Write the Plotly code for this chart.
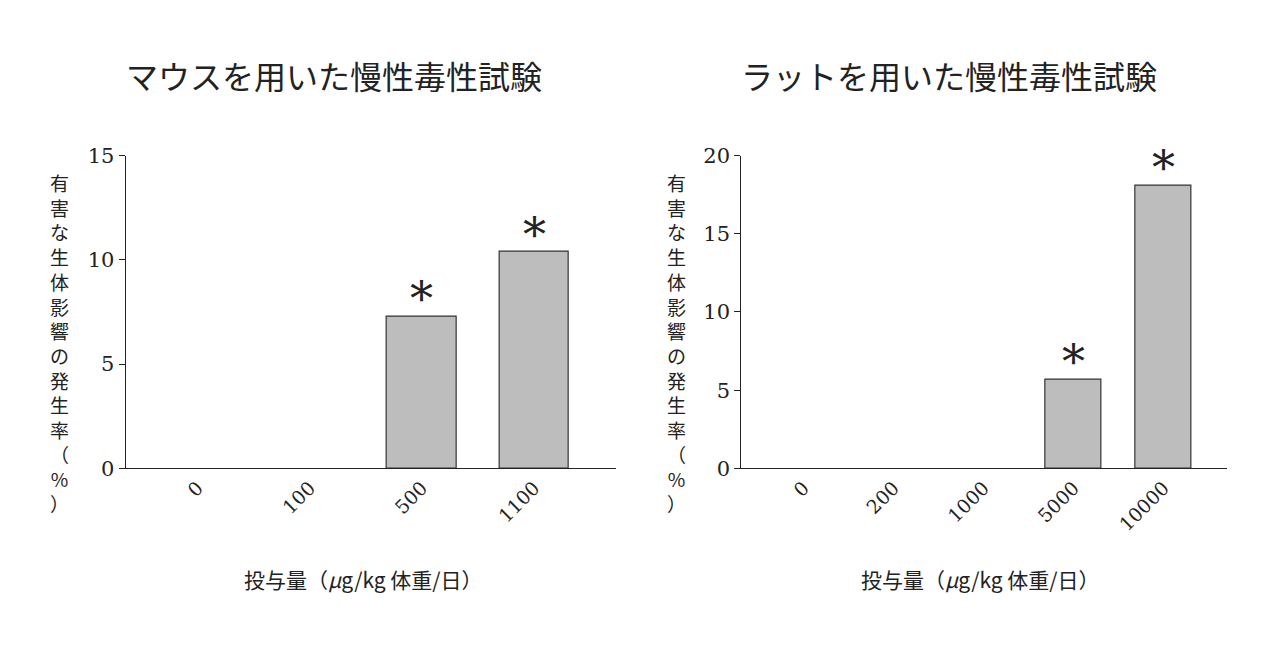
import plotly.graph_objects as go

mouse_doses = ["0", "100", "500", "1100"]
mouse_vals = [0, 0, 7.3, 10.4]
mouse_sig = [False, False, True, True]
rat_doses = ["0", "200", "1000", "5000", "10000"]
rat_vals = [0, 0, 0, 5.7, 18.1]
rat_sig = [False, False, False, True, True]

FONT = "Noto Sans CJK JP"
fig = go.Figure()
fig.add_bar(x=mouse_doses, y=mouse_vals, xaxis="x", yaxis="y", width=0.62,
            marker=dict(color="#bdbdbd", line=dict(color="#333", width=[1.2 if v else 0 for v in mouse_vals])))
fig.add_bar(x=rat_doses, y=rat_vals, xaxis="x2", yaxis="y2", width=0.62,
            marker=dict(color="#bdbdbd", line=dict(color="#333", width=[1.2 if v else 0 for v in rat_vals])))

ann = []
for xs, ys, sig, xr, yr in [(mouse_doses, mouse_vals, mouse_sig, "x", "y"),
                            (rat_doses, rat_vals, rat_sig, "x2", "y2")]:
    for i, (y, s) in enumerate(zip(ys, sig)):
        if s:
            ann.append(dict(x=i, y=y, xref=xr, yref=yr, text="*", showarrow=False,
                            xanchor="center", yanchor="bottom", yshift=-12,
                            font=dict(size=46, color="#222", family="DejaVu Serif")))

ytitle = "<br>".join(list("有害な生体影響の発生率") + ["（", "%", "）"])
for xp in [0.04, 0.522]:
    ann.append(dict(x=xp, y=0.5, xref="paper", yref="paper", text=ytitle, showarrow=False,
                    xanchor="center", yanchor="middle",
                    font=dict(size=19, family=FONT, color="#222"), align="center"))
for xp, t in [(0.255, "マウスを用いた慢性毒性試験"), (0.735, "ラットを用いた慢性毒性試験")]:
    ann.append(dict(x=xp, y=0.915, xref="paper", yref="paper", text=t, showarrow=False,
                    xanchor="center", yanchor="middle",
                    font=dict(size=32, family=FONT, color="#222")))
for xp in [0.278, 0.76]:
    ann.append(dict(x=xp, y=0.135, xref="paper", yref="paper", text="投与量（<i>μ</i>g/kg 体重/日）",
                    xanchor="center", yanchor="middle",
                    showarrow=False, font=dict(size=21, family=FONT, color="#222")))

xcommon = dict(type="category", showline=True, linecolor="#222", linewidth=1.3, ticks="",
               tickangle=-45, tickfont=dict(size=19, family="DejaVu Serif", color="#222"),
               showgrid=False, zeroline=False)
ycommon = dict(showline=True, linecolor="#222", linewidth=1.3, ticks="outside", ticklen=6,
               tickcolor="#222", tickfont=dict(size=21, family="DejaVu Serif", color="#222"),
               showgrid=False, zeroline=False)
fig.update_layout(
    width=1280, height=670, margin=dict(l=0, r=0, t=0, b=0),
    paper_bgcolor="white", plot_bgcolor="white", showlegend=False, bargap=0,
    xaxis=dict(domain=[0.092, 0.475], range=[-0.64, 3.73], anchor="y", **xcommon),
    yaxis=dict(domain=[0.306, 0.79], range=[0, 15], tickvals=[0, 5, 10, 15], anchor="x", **ycommon),
    xaxis2=dict(domain=[0.573, 0.952], range=[-0.69, 4.7], anchor="y2", **xcommon),
    yaxis2=dict(domain=[0.306, 0.79], range=[0, 20], tickvals=[0, 5, 10, 15, 20], anchor="x2", **ycommon),
    annotations=ann,
)
fig.write_html("out.html")
